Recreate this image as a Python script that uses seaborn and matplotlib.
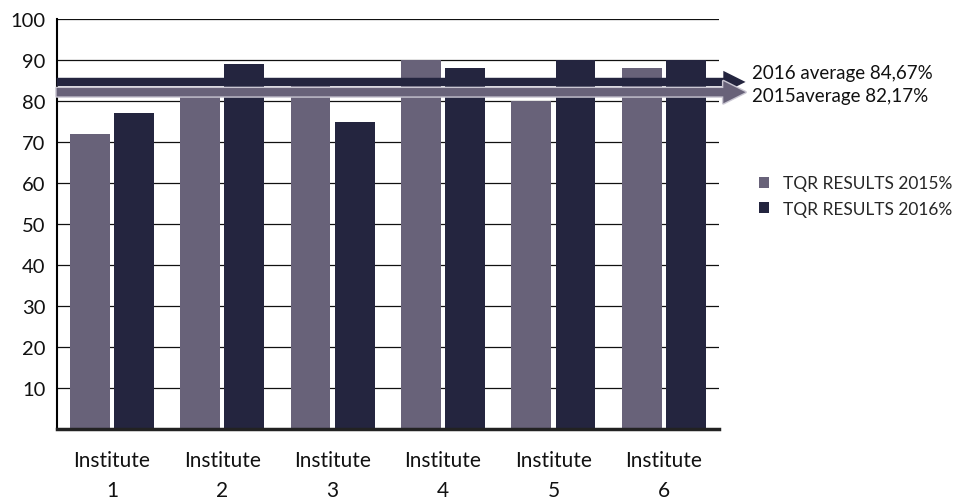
import matplotlib
matplotlib.use("Agg")
import matplotlib.pyplot as plt
import matplotlib.patheffects as pe
import matplotlib.transforms as mtransforms
import seaborn as sns
import pandas as pd

institutes = ["Institute\n1", "Institute\n2", "Institute\n3",
              "Institute\n4", "Institute\n5", "Institute\n6"]
results_2015 = [72, 81, 84, 90, 80, 88]
results_2016 = [77, 89, 75, 88, 90, 90]
series_names = ["TQR RESULTS 2015%", "TQR RESULTS 2016%"]
avg_2015 = 82.17
avg_2016 = 84.67
avg_labels = ["2015average 82,17%", "2016 average 84,67%"]

color_2015 = "#686279"
color_2016 = "#24253f"

df = pd.DataFrame({
    "institute": institutes * 2,
    "score": results_2015 + results_2016,
    "series": [series_names[0]] * 6 + [series_names[1]] * 6,
})

sns.set_theme(style="white")
plt.rcParams["font.family"] = ["Lato", "DejaVu Sans"]

fig = plt.figure(figsize=(9.6, 5.02), dpi=100)
ax = fig.add_axes([0.059, 0.143, 0.69, 0.817])

sns.barplot(data=df, x="institute", y="score", hue="series",
            palette=[color_2015, color_2016], width=0.8, gap=0.1,
            saturation=1, linewidth=0, ax=ax)

ax.set_ylim(0, 100)
ax.set_xlim(-0.5, 5.5)
ax.set_yticks(range(10, 101, 10))
ax.set_xlabel("")
ax.set_ylabel("")
ax.set_axisbelow(True)
ax.yaxis.grid(True, color="#111111", linewidth=0.9)
ax.xaxis.grid(False)

for side in ["top", "right"]:
    ax.spines[side].set_visible(False)
ax.spines["left"].set_color("black")
ax.spines["left"].set_linewidth(1.5)
ax.spines["bottom"].set_color("#222222")
ax.spines["bottom"].set_linewidth(2.5)

ax.tick_params(axis="y", length=0, labelsize=14.5, pad=8, labelcolor="#111111")
ax.tick_params(axis="x", which="major", length=0, pad=15)
ax.set_xticks([i + 0.5 for i in range(6)], minor=True)
ax.tick_params(axis="x", which="minor", direction="in", length=8, width=1.2, color="black")
for t in ax.get_xticklabels():
    t.set_fontsize(15)
    t.set_linespacing(1.65)
    t.set_color("#111111")

# average arrows
trans = mtransforms.blended_transform_factory(ax.transAxes, ax.transData)
arrow_style = "simple,head_length=0.8,head_width=0.8,tail_width=0.3"
ax.annotate("", xy=(1.04, avg_2016), xytext=(0, avg_2016), xycoords=trans,
            textcoords=trans, annotation_clip=False, zorder=5,
            arrowprops=dict(arrowstyle=arrow_style, lw=0, color=color_2016,
                            mutation_scale=20, shrinkA=0, shrinkB=0))
ann = ax.annotate("", xy=(1.04, avg_2015), xytext=(0, avg_2015), xycoords=trans,
                  textcoords=trans, annotation_clip=False, zorder=6,
                  arrowprops=dict(arrowstyle=arrow_style, lw=0, color=color_2015,
                                  mutation_scale=20, shrinkA=0, shrinkB=0))
ann.arrow_patch.set_path_effects([pe.Stroke(linewidth=2, foreground="#c9c6d2"), pe.Normal()])

ax.text(1.05, avg_2016 + 0.2, avg_labels[1], transform=trans,
        fontsize=13.5, va="bottom", ha="left", color="#111111")
ax.text(1.05, avg_2015 + 1.2, avg_labels[0], transform=trans,
        fontsize=13.5, va="top", ha="left", color="#111111")

handles, labels = ax.get_legend_handles_labels()
ax.legend(handles, labels, loc="upper left", bbox_to_anchor=(0.774, 0.68),
          bbox_transform=fig.transFigure, frameon=False, fontsize=12.5,
          handlelength=0.6, handleheight=0.6, handletextpad=0.8,
          labelspacing=0.55)

fig.savefig("out.png", dpi=100)
